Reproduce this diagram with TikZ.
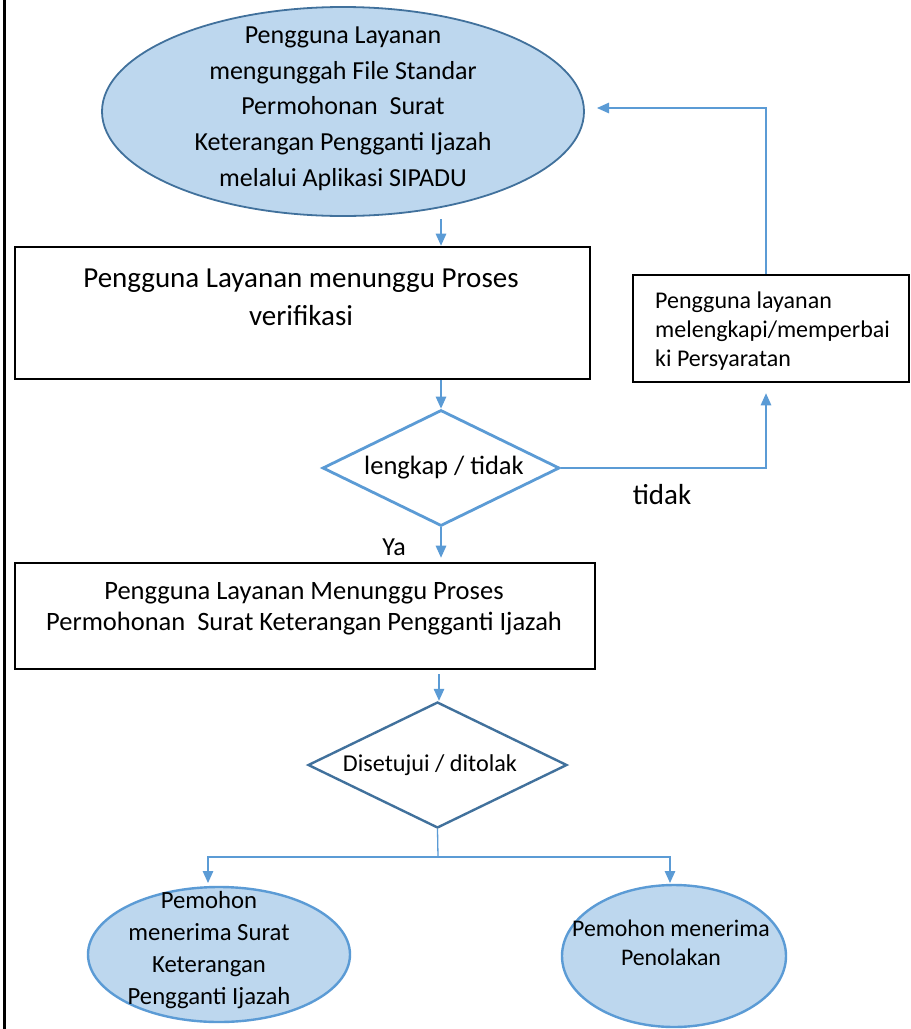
\documentclass[tikz,border=0pt]{standalone}
\usepackage{fontspec}
\setmainfont{Carlito}
\usetikzlibrary{shapes.geometric,arrows.meta}
\definecolor{fillblue}{HTML}{BDD7EE}
\definecolor{edgeblue}{HTML}{41719C}
\definecolor{lineblue}{HTML}{5B9BD5}
\begin{document}
\begin{tikzpicture}[x=1pt,y=-1pt,
  conn/.style={draw=lineblue,line width=1.3pt},
  arr/.style={conn,-{Triangle[length=12pt,width=10.5pt]}},
  stepbox/.style={draw=black,line width=2.6pt,fill=white,inner sep=0pt},
  oval/.style={ellipse,fill=fillblue,inner sep=0pt},
  choice/.style={diamond,fill=white,inner sep=0pt},
  txt/.style={align=center,inner sep=0pt}]
\useasboundingbox (0,0) rectangle (911,1029);
\fill[white] (0,0) rectangle (911,1029);
% left page rule
\draw[line width=3pt] (4,0) -- (4,1029);

% shapes
\node[oval,draw=edgeblue,line width=1.8pt,minimum width=482pt,minimum height=209pt] (top) at (343,111.5) {};
\node[stepbox,minimum width=575pt,minimum height=132pt] (r1) at (302.5,313) {};
\node[choice,draw=lineblue,line width=2.8pt,minimum width=237pt,minimum height=116pt] (d1) at (441,468) {};
\node[stepbox,minimum width=276pt,minimum height=107pt] (b2) at (771,328.5) {};
\node[stepbox,minimum width=580pt,minimum height=106pt] (r2) at (305,616) {};
\node[choice,draw=edgeblue,line width=2.4pt,minimum width=259pt,minimum height=126pt] (d2) at (437.5,765) {};
\node[oval,draw=lineblue,line width=2.4pt,minimum width=262pt,minimum height=135pt] (ok) at (219,954.5) {};
\node[oval,draw=lineblue,line width=2.4pt,minimum width=224pt,minimum height=142pt] (no) at (674,956) {};

% texts
\node[txt,font=\fontsize{26}{35.75}\selectfont] (ttop) at (343,108.5)
  {Pengguna Layanan\\mengunggah File Standar\\Permohonan\ \ Surat\\Keterangan Pengganti Ijazah\\melalui Aplikasi SIPADU};
\node[txt,font=\fontsize{29}{38}\selectfont] (tr1) at (301,297)
  {Pengguna Layanan menunggu Proses\\verifikasi};
\node[txt,font=\fontsize{26.5}{31}\selectfont] (td1) at (444,468) {lengkap / tidak};
\node[txt,align=left,anchor=west,font=\fontsize{24}{29}\selectfont] (tb2) at (655,331)
  {Pengguna layanan\\melengkapi/memperbai\\ki Persyaratan};
\node[txt,font=\fontsize{26.5}{31}\selectfont] (tr2) at (304,608.5)
  {Pengguna Layanan Menunggu Proses\\Permohonan\ \ Surat Keterangan Pengganti Ijazah};
\node[txt,font=\fontsize{24.2}{30}\selectfont] (td2) at (430,765) {Disetujui / ditolak};
\node[txt,font=\fontsize{24.7}{32}\selectfont] (tok) at (209,950)
  {Pemohon\\menerima Surat\\Keterangan\\Pengganti Ijazah};
\node[txt,font=\fontsize{23.8}{29}\selectfont] (tno) at (671,942.5)
  {Pemohon menerima\\Penolakan};
\node[txt,font=\fontsize{29}{34}\selectfont] (ltidak) at (662,495) {tidak};
\node[txt,font=\fontsize{26}{30}\selectfont] (lya) at (394,547) {Ya};

% connector points
\coordinate (s0) at (441,219);
\coordinate (s1) at (439,674);
\coordinate (loopx) at (766,469);
\coordinate (back) at (597,108);
\coordinate (split) at (438,857);
\coordinate (okin) at (208,883);
\coordinate (noin) at (670,883);

% connectors
\draw[arr] (s0) -- (r1.north -| s0);
\draw[arr] (r1.south -| d1.north) -- (d1.north);
\draw[arr,shorten >=10pt] (d1.east) -| (b2.south -| loopx);
\draw[arr] (b2.north -| loopx) |- (back);
\draw[arr,shorten >=4pt] (d1.south) -- (r2.north -| d1.south);
\draw[arr] (s1) -- (d2.north -| s1);
\draw[conn] (d2.south) -- (split);
\draw[arr] (split) -| (okin);
\draw[arr] (split) -| (noin);
\end{tikzpicture}
\end{document}
